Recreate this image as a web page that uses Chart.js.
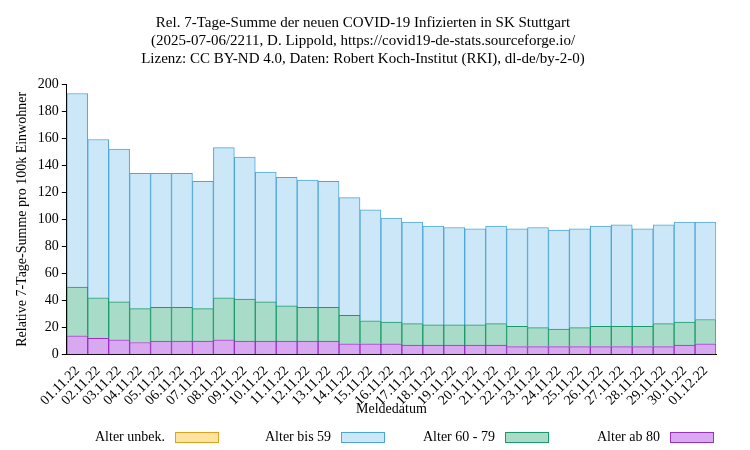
<!DOCTYPE html>
<html><head><meta charset="utf-8">
<script src="https://cdn.jsdelivr.net/npm/chart.js@4"></script>
<style>
body{margin:0;background:#fff;font-family:"Liberation Serif",serif}
#wrap{position:relative;width:750px;height:450px}
.lg{position:absolute;top:429px;font-size:14px;display:flex;align-items:center}
.lg span.b{display:inline-block;width:42px;height:9px;margin-left:10px;border:1px solid}
</style></head>
<body><div id="wrap"><canvas id="c" width="750" height="450"></canvas>
<div class="lg" style="left:95px">Alter unbek.<span class="b" style="background:#fde3a0;border-color:#e0a020"></span></div>
<div class="lg" style="left:265px">Alter bis 59<span class="b" style="background:#cce8f8;border-color:#4da6d9"></span></div>
<div class="lg" style="left:423px">Alter 60 - 79<span class="b" style="background:#a8dcc8;border-color:#1a9a6a"></span></div>
<div class="lg" style="left:597px">Alter ab 80<span class="b" style="background:#d8a8f0;border-color:#9a30c0"></span></div>
</div>
<script>
const labels = ['01.11.22','02.11.22','03.11.22','04.11.22','05.11.22','06.11.22','07.11.22','08.11.22','09.11.22','10.11.22','11.11.22','12.11.22','13.11.22','14.11.22','15.11.22','16.11.22','17.11.22','18.11.22','19.11.22','20.11.22','21.11.22','22.11.22','23.11.22','24.11.22','25.11.22','26.11.22','27.11.22','28.11.22','29.11.22','30.11.22','01.12.22'];
// cumulative tops
const totalTop = [193,159,152,134,134,134,128,153,146,135,131,129,128,116,107,101,98,95,94,93,95,93,94,92,93,95,96,93,96,98,98];
const top60 = [50,42,39,34,35,35,34,42,41,39,36,35,35,29,25,24,23,22,22,22,23,21,20,19,20,21,21,21,23,24,26];
const ab80 = [14,12,11,9,10,10,10,11,10,10,10,10,10,8,8,8,7,7,7,7,7,6,6,6,6,6,6,6,6,7,8];
const unbek = labels.map(() => 0);

const a60 = top60.map((v, i) => v - ab80[i]);
const bis59 = totalTop.map((v, i) => v - top60[i]);

const font = {family: '"Liberation Serif", serif', size: 14};
Chart.defaults.font = font;
Chart.defaults.color = '#000';

const ds = (label, data, bg, bc) => ({label, data, backgroundColor: bg, borderColor: bc, borderWidth: 1, categoryPercentage: 1, barPercentage: 1});

new Chart(document.getElementById('c'), {
  type: 'bar',
  data: {
    labels,
    datasets: [
      ds('Alter ab 80', ab80, '#d8a8f0', '#9a30c0'),
      ds('Alter 60 - 79', a60, '#a8dcc8', '#1a9a6a'),
      ds('Alter bis 59', bis59, '#cce8f8', '#4da6d9'),
      ds('Alter unbek.', unbek, '#fde3a0', '#e0a020')
    ]
  },
  options: {
    responsive: false,
    animation: false,
    layout: {padding: {left: 10, right: 34, top: 0, bottom: 28}},
    plugins: {
      legend: {display: false},
      tooltip: {enabled: false},
      title: {
        display: true,
        text: ['Rel. 7-Tage-Summe der neuen COVID-19 Infizierten in SK Stuttgart',
               '(2025-07-06/2211, D. Lippold, https://covid19-de-stats.sourceforge.io/',
               'Lizenz: CC BY-ND 4.0, Daten: Robert Koch-Institut (RKI), dl-de/by-2-0)'],
        font: {...font, size: 15, weight: 'normal'},
        lineHeight: 1.15,
        padding: {top: 14, bottom: 16},
        color: '#000'
      }
    },
    scales: {
      x: {
        stacked: true,
        grid: {display: false},
        border: {color: '#000'},
        ticks: {maxRotation: 45, minRotation: 45, autoSkip: false, font, padding: 0},
        title: {display: true, text: 'Meldedatum', font, padding: {top: -8}}
      },
      y: {
        stacked: true,
        min: 0, max: 200,
        ticks: {stepSize: 20, font},
        grid: {drawOnChartArea: false, tickColor: '#000', drawTicks: true, tickLength: 5},
        border: {color: '#000'},
        title: {display: true, text: 'Relative 7-Tage-Summe pro 100k Einwohner', font}
      }
    }
  }
});
</script></body></html>
